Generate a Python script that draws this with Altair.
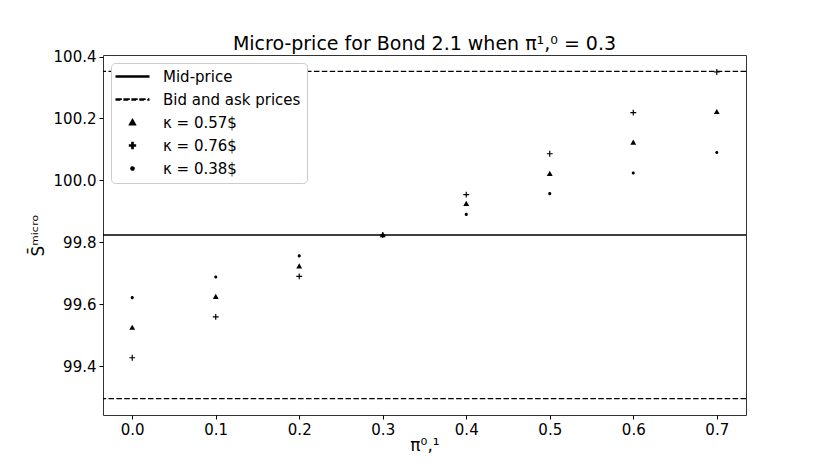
import altair as alt
import pandas as pd

# ---- data ----
pi01 = [0.0, 0.1, 0.2, 0.3, 0.4, 0.5, 0.6, 0.7]
kappa_057 = [99.524, 99.624, 99.722, 99.8235, 99.924, 100.021, 100.122, 100.221]
kappa_076 = [99.427, 99.559, 99.690, 99.8235, 99.954, 100.086, 100.219, 100.350]
kappa_038 = [99.621, 99.688, 99.756, 99.8235, 99.890, 99.957, 100.024, 100.090]
mid_price = [99.8235]
bid_ask_prices = [99.295, 100.352]

series_order = ["Mid-price", "Bid and ask prices", "κ = 0.57$", "κ = 0.76$", "κ = 0.38$"]
x_ticks = [0.0, 0.1, 0.2, 0.3, 0.4, 0.5, 0.6, 0.7]
y_ticks = [99.4, 99.6, 99.8, 100.0, 100.2, 100.4]

# ---- tables (triangles drawn last so they sit on top) ----
rows = []
for name, vals in [("κ = 0.76$", kappa_076), ("κ = 0.38$", kappa_038), ("κ = 0.57$", kappa_057)]:
    for xv, yv in zip(pi01, vals):
        rows.append({"x": xv, "y": yv, "series": name})
points_df = pd.DataFrame(rows)
mid_df = pd.DataFrame({"y": mid_price, "series": ["Mid-price"] * len(mid_price)})
ba_df = pd.DataFrame({"y": bid_ask_prices, "series": ["Bid and ask prices"] * len(bid_ask_prices)})

# ---- styles (filled symbol paths, unit = sqrt(size)/2 px) ----
solid_path = "M-2.5,-0.085H2.5V0.085H-2.5Z"
dash_segments = [(-2.5, -1.65), (-1.28, -0.43), (-0.06, 0.79), (1.16, 2.01), (2.38, 2.5)]
dashed_path = " ".join(f"M{a},-0.07H{b}V0.07H{a}Z" for a, b in dash_segments)
tri_path = "M0,-0.47L0.45,0.33L-0.45,0.33Z"
plus_path = "M-0.45,-0.09H0.45V0.09H-0.45Z M-0.09,-0.45H0.09V0.45H-0.09Z"
dot_path = "M-0.24,0A0.24,0.24,0,1,1,0.24,0A0.24,0.24,0,1,1,-0.24,0Z"
shape_range = [solid_path, dashed_path, tri_path, plus_path, dot_path]
dash_range = [[1, 0], [5.5, 2.4], [1, 0], [1, 0], [1, 0]]

FONT = "DejaVu Sans"

legend = alt.Legend(
    title=None,
    orient="top-left",
    offset=8,
    padding=6,
    fillColor="white",
    strokeColor="#cccccc",
    cornerRadius=4,
    labelFont=FONT,
    labelFontSize=15,
    labelColor="black",
    symbolSize=169,
    symbolOffset=8,
    labelOffset=23,
    symbolFillColor="black",
    symbolOpacity=1,
)

x_scale = alt.Scale(domain=[-0.035, 0.735], nice=False, zero=False)
y_scale = alt.Scale(domain=[99.242, 100.405], nice=False, zero=False)
dash_scale = alt.Scale(domain=series_order, range=dash_range)

x_axis = alt.Axis(values=x_ticks, format=".1f", title="π⁰,¹")
y_axis = alt.Axis(values=y_ticks, format=".1f", title="S̄ᵐⁱᶜʳᵒ")

mid_rule = alt.Chart(mid_df).mark_rule(color="black", strokeWidth=1.5).encode(
    y=alt.Y("y:Q", scale=y_scale, axis=y_axis),
    strokeDash=alt.StrokeDash("series:N", scale=dash_scale, legend=legend),
)

ba_rules = alt.Chart(ba_df).mark_rule(color="black", strokeWidth=1.1).encode(
    y=alt.Y("y:Q", scale=y_scale, axis=y_axis),
    strokeDash=alt.StrokeDash("series:N", scale=dash_scale, legend=legend),
)

points = alt.Chart(points_df).mark_point(
    filled=True, color="black", strokeWidth=0, opacity=1, size=169
).encode(
    x=alt.X("x:Q", scale=x_scale, axis=x_axis),
    y=alt.Y("y:Q", scale=y_scale, axis=y_axis),
    shape=alt.Shape(
        "series:N",
        scale=alt.Scale(domain=series_order, range=shape_range),
        legend=legend,
    ),
)

chart = alt.layer(mid_rule, ba_rules, points).properties(
    width=643,
    height=360,
    autosize=alt.AutoSizeParams(type="none"),
    padding={"left": 95, "top": 47, "right": 70, "bottom": 50},
    title=alt.Title(
        "Micro-price for Bond 2.1 when π¹,⁰ = 0.3",
        font=FONT, fontSize=19, fontWeight="normal", color="black",
        anchor="middle", offset=-4,
    ),
    background="white",
).configure_view(
    stroke="#333333", strokeWidth=1
).configure_axis(
    grid=False,
    domain=False,
    ticks=True,
    tickColor="black",
    tickSize=4,
    tickWidth=1,
    labelFont=FONT,
    labelFontSize=15,
    labelColor="black",
    labelPadding=3,
    titleFont=FONT,
    titleFontSize=17,
    titleFontWeight="normal",
    titleColor="black",
).configure_axisX(
    titlePadding=0,
).configure_axisY(
    titlePadding=6,
).configure_legend(
    rowPadding=7,
)

chart.save("out.html", embed_options={"renderer": "svg", "actions": False})
